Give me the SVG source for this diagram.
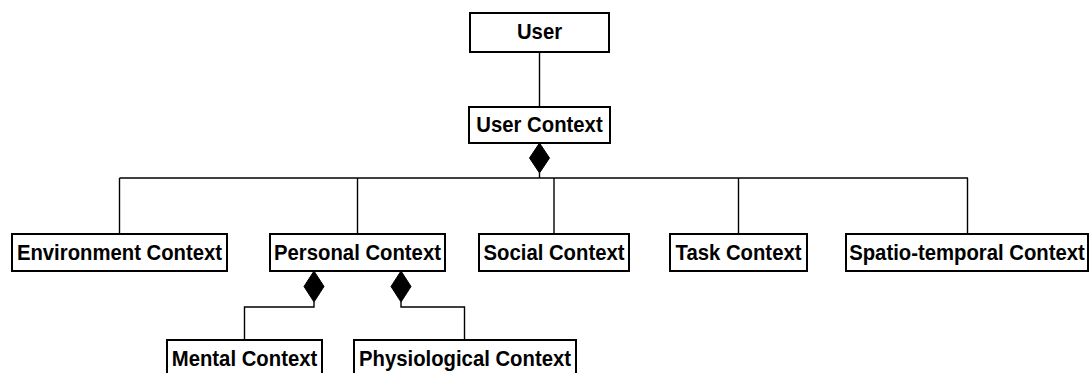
<svg xmlns="http://www.w3.org/2000/svg" width="1091" height="373" viewBox="0 0 1091 373">
<style>
.box{fill:#fff;stroke:#000;stroke-width:2}
.lbl{font-family:"Liberation Sans",Arial,sans-serif;font-weight:bold;font-size:22px;text-anchor:middle;fill:#000}
.ln{fill:none;stroke:#000;stroke-width:1.4}
.dia{fill:#000;stroke:#000;stroke-width:1}
</style>
<rect width="1091" height="373" fill="#fff"/>
<g id="connectors">
<line class="ln" x1="539.5" y1="52" x2="539.5" y2="107"/>
<polyline class="ln" points="539.5,173 539.5,178"/>
<line class="ln" x1="119.5" y1="178" x2="968" y2="178"/>
<line class="ln" x1="119.5" y1="178" x2="119.5" y2="234"/>
<line class="ln" x1="357.5" y1="178" x2="357.5" y2="234"/>
<line class="ln" x1="554" y1="178" x2="554" y2="234"/>
<line class="ln" x1="738.5" y1="178" x2="738.5" y2="234"/>
<line class="ln" x1="967.5" y1="178" x2="967.5" y2="234"/>
<polygon class="dia" points="539.5,143 549.5,158 539.5,173 529.5,158"/>
<polyline class="ln" points="314,302 314,307 244.5,307 244.5,340"/>
<polyline class="ln" points="401,302 401,307 464.5,307 464.5,340"/>
<polygon class="dia" points="314,271 324,286.5 314,302 304,286.5"/>
<polygon class="dia" points="401,271 411,286.5 401,302 391,286.5"/>
</g>
<g id="user"><rect class="box" x="470" y="13" width="139" height="39"/><text class="lbl" transform="translate(539.5,39) scale(0.923,1)">User</text></g>
<g id="user-context"><rect class="box" x="469" y="107" width="141" height="36"/><text class="lbl" transform="translate(539.5,132) scale(0.923,1)">User Context</text></g>
<g id="environment-context"><rect class="box" x="12" y="234" width="215" height="37"/><text class="lbl" transform="translate(119.5,260) scale(0.923,1)">Environment Context</text></g>
<g id="personal-context"><rect class="box" x="270" y="234" width="175" height="37"/><text class="lbl" transform="translate(357.5,260) scale(0.923,1)">Personal Context</text></g>
<g id="social-context"><rect class="box" x="479" y="234" width="150" height="37"/><text class="lbl" transform="translate(554,260) scale(0.923,1)">Social Context</text></g>
<g id="task-context"><rect class="box" x="670" y="234" width="137" height="37"/><text class="lbl" transform="translate(738.5,260) scale(0.923,1)">Task Context</text></g>
<g id="spatio-temporal-context"><rect class="box" x="846" y="234" width="242" height="37"/><text class="lbl" transform="translate(967,260) scale(0.923,1)">Spatio-temporal Context</text></g>
<g id="mental-context"><rect class="box" x="167" y="340" width="155" height="40"/><text class="lbl" transform="translate(244.5,366) scale(0.923,1)">Mental Context</text></g>
<g id="physiological-context"><rect class="box" x="354" y="340" width="222" height="40"/><text class="lbl" transform="translate(465,366) scale(0.923,1)">Physiological Context</text></g>
</svg>
